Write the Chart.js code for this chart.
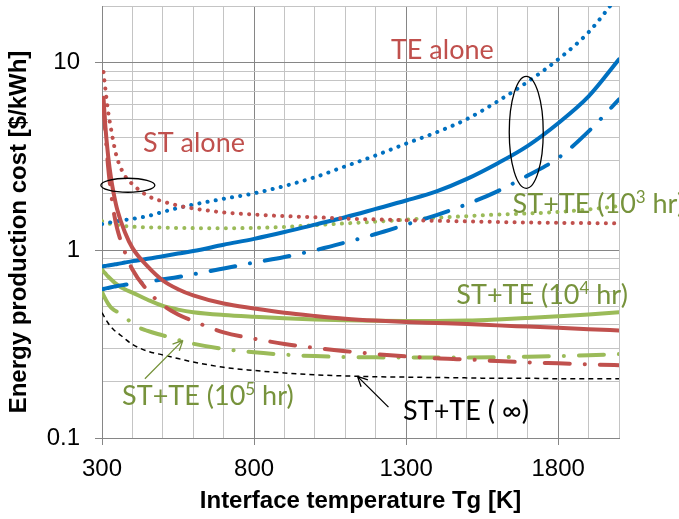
<!DOCTYPE html>
<html>
<head>
<meta charset="utf-8">
<script src="https://cdn.jsdelivr.net/npm/chart.js@4"></script>
<style>
  html, body { margin: 0; padding: 0; background: #fff; }
</style>
</head>
<body>
<canvas id="costChart" width="679" height="519"></canvas>
<script>
// Interface temperature Tg [K]
const temps = [300, 305, 310, 320, 330, 340, 350, 375, 400, 450, 500, 550, 600, 700, 800, 900, 1000, 1100, 1200, 1300, 1400, 1500, 1600, 1700, 1800, 1900, 2000];

// ST alone (red): 10^3 hr dotted, 10^4 hr solid, 10^5 hr dash-dot
const stLife1e3 = [null, 8.9, 7.5, 5.5, 4.4, 3.6, 3.08, 2.5, 2.25, 1.95, 1.82, 1.73, 1.67, 1.59, 1.55, 1.52, 1.5, 1.475, 1.46, 1.445, 1.435, 1.425, 1.415, 1.405, 1.4, 1.395, 1.39];
const stLife1e4 = [null, 6.5, 4.8, 3.2, 2.4, 1.95, 1.65, 1.25, 1.03, 0.82, 0.69, 0.62, 0.575, 0.52, 0.49, 0.465, 0.447, 0.432, 0.422, 0.415, 0.41, 0.405, 0.398, 0.392, 0.386, 0.38, 0.374];
const stLife1e5 = [null, 6.0, 4.5, 2.8, 2.0, 1.55, 1.3, 0.98, 0.79, 0.61, 0.51, 0.455, 0.42, 0.365, 0.338, 0.317, 0.302, 0.29, 0.28, 0.272, 0.266, 0.262, 0.257, 0.253, 0.25, 0.247, 0.244];

// TE alone (blue)
const teLife1e3 = [1.38, 1.385, 1.39, 1.4, 1.41, 1.42, 1.43, 1.45, 1.47, 1.52, 1.6, 1.68, 1.75, 1.88, 2.01, 2.2, 2.45, 2.8, 3.2, 3.7, 4.25, 5.0, 6.2, 7.9, 10.4, 14.5, 23];
const teLife1e4 = [0.82, 0.822, 0.825, 0.83, 0.835, 0.84, 0.845, 0.86, 0.875, 0.9, 0.93, 0.96, 0.99, 1.07, 1.15, 1.25, 1.37, 1.5, 1.66, 1.84, 2.06, 2.4, 2.9, 3.6, 4.75, 6.6, 10.4];
const teLife1e5 = [0.62, 0.622, 0.625, 0.63, 0.635, 0.64, 0.645, 0.655, 0.665, 0.68, 0.7, 0.72, 0.745, 0.8, 0.86, 0.92, 1.0, 1.1, 1.22, 1.37, 1.54, 1.76, 2.06, 2.5, 3.1, 4.3, 6.36];

// ST+TE (green) and the infinite-life limit (black)
const stTeLife1e3 = [1.43, 1.42, 1.41, 1.39, 1.38, 1.37, 1.36, 1.345, 1.335, 1.325, 1.32, 1.315, 1.312, 1.31, 1.315, 1.33, 1.36, 1.39, 1.42, 1.455, 1.49, 1.52, 1.55, 1.57, 1.6, 1.65, 1.72];
const stTeLife1e4 = [0.79, 0.77, 0.755, 0.725, 0.7, 0.675, 0.655, 0.62, 0.595, 0.545, 0.505, 0.483, 0.468, 0.452, 0.442, 0.434, 0.428, 0.424, 0.421, 0.42, 0.42, 0.422, 0.428, 0.436, 0.445, 0.455, 0.467];
const stTeLife1e5 = [0.6, 0.575, 0.555, 0.52, 0.495, 0.48, 0.47, 0.445, 0.405, 0.372, 0.352, 0.333, 0.318, 0.298, 0.286, 0.278, 0.273, 0.27, 0.269, 0.268, 0.268, 0.268, 0.269, 0.271, 0.273, 0.276, 0.28];
const stTeInf = [0.465, 0.45, 0.435, 0.41, 0.39, 0.375, 0.365, 0.338, 0.315, 0.29, 0.277, 0.265, 0.254, 0.238, 0.229, 0.222, 0.217, 0.214, 0.212, 0.211, 0.21, 0.209, 0.208, 0.208, 0.207, 0.207, 0.207];

// axis ticks
const xGridTicks = [300, 400, 500, 600, 700, 800, 900, 1000, 1100, 1200, 1300, 1400, 1500, 1600, 1700, 1800, 1900, 2000];
const xLabels = [300, 800, 1300, 1800];
const yGridTicks = [0.1, 0.2, 0.3, 0.4, 0.5, 0.6, 0.7, 0.8, 0.9, 1, 2, 3, 4, 5, 6, 7, 8, 9, 10, 20];
const yLabels = [0.1, 1, 10];

const RED = '#C0504D';
const BLUE = '#0070C0';
const GREEN = '#9BBB59';
const GREEN_TEXT = '#77933C';
const MAJOR_GRID = '#868686';
const MINOR_GRID = '#C4C4C4';

const DOTTED = [0.1, 8.2];
const DASH_DOT = [25, 15, 0.1, 15];

function series(values) {
  return temps.map((t, i) => ({ x: t, y: values[i] }));
}

function line(values, color, dash, width) {
  return {
    data: series(values),
    borderColor: color,
    borderWidth: width || 4,
    borderDash: dash || [],
    borderCapStyle: 'round',
    pointRadius: 0,
    fill: false,
    cubicInterpolationMode: 'monotone'
  };
}

// annotations, anchored in data units
const noteLabels = [
  { parts: [['TE alone']], at: [1250, 10.4], color: RED },
  { parts: [['ST alone']], at: [435, 3.33], color: RED },
  { parts: [['ST+TE (10'], ['3', true], [' hr)']], at: [1650, 1.57], color: GREEN_TEXT },
  { parts: [['ST+TE (10'], ['4', true], [' hr)']], at: [1465, 0.52], color: GREEN_TEXT },
  { parts: [['ST+TE (10'], ['5', true], [' hr)']], at: [366, 0.149], color: GREEN_TEXT },
  { parts: [['ST+TE ( \u221E)']], at: [1290, 0.124], color: '#000' }
];
const noteEllipses = [
  { at: [385, 2.22], rx: 27, ry: 7 },
  { at: [1695, 4.25], rx: 17, ry: 56 }
];
const noteArrows = [
  { from: [441, 0.207], to: [566, 0.331], color: GREEN_TEXT },
  { from: [1242, 0.146], to: [1140, 0.213], color: '#000' }
];

const notesPlugin = {
  id: 'notes',
  afterDatasetsDraw(chart) {
    const { ctx, scales: { x, y } } = chart;
    const px = (p) => [x.getPixelForValue(p[0]), y.getPixelForValue(p[1])];
    ctx.save();

    ctx.strokeStyle = '#000';
    ctx.lineWidth = 1.3;
    noteEllipses.forEach((e) => {
      const [cx, cy] = px(e.at);
      ctx.beginPath();
      ctx.ellipse(cx, cy, e.rx, e.ry, 0, 0, Math.PI * 2);
      ctx.stroke();
    });

    noteArrows.forEach((a) => {
      const [x0, y0] = px(a.from);
      const [x1, y1] = px(a.to);
      const ang = Math.atan2(y1 - y0, x1 - x0);
      ctx.strokeStyle = a.color;
      ctx.lineWidth = 1.3;
      ctx.beginPath();
      ctx.moveTo(x0, y0);
      ctx.lineTo(x1, y1);
      [-0.45, 0.45].forEach((d) => {
        ctx.moveTo(x1, y1);
        ctx.lineTo(x1 - 11 * Math.cos(ang + d), y1 - 11 * Math.sin(ang + d));
      });
      ctx.stroke();
    });

    ctx.textBaseline = 'alphabetic';
    ctx.textAlign = 'left';
    noteLabels.forEach((l) => {
      let [cx, cy] = px(l.at);
      ctx.fillStyle = l.color;
      l.parts.forEach(([text, sup]) => {
        ctx.font = sup ? '17px Lato' : '27px Lato';
        ctx.fillText(text, cx, sup ? cy - 10 : cy);
        cx += ctx.measureText(text).width;
      });
    });
    ctx.restore();
  }
};

const ctx = document.getElementById('costChart').getContext('2d');
const tickFont = { family: '"Liberation Sans", Arial, sans-serif', size: 24 };
const titleFont = { family: '"Liberation Sans", Arial, sans-serif', size: 24, weight: 'bold' };

new Chart(ctx, {
  type: 'line',
  data: {
    datasets: [
      line(stLife1e3, RED, DOTTED, 4),
      line(stLife1e4, RED),
      line(stLife1e5, RED, DASH_DOT),
      line(teLife1e3, BLUE, DOTTED, 4),
      line(teLife1e4, BLUE),
      line(teLife1e5, BLUE, DASH_DOT),
      line(stTeLife1e3, GREEN, DOTTED, 4),
      line(stTeLife1e4, GREEN),
      line(stTeLife1e5, GREEN, DASH_DOT),
      Object.assign(line(stTeInf, '#000', [5, 4], 1.5), { borderCapStyle: 'butt' })
    ]
  },
  options: {
    responsive: false,
    animation: false,
    layout: { padding: { left: 0, right: 60, top: 6, bottom: 0 } },
    plugins: { legend: { display: false }, tooltip: { enabled: false } },
    scales: {
      x: {
        type: 'linear',
        min: 300,
        max: 2000,
        afterBuildTicks: (axis) => { axis.ticks = xGridTicks.map((v) => ({ value: v })); },
        afterFit: (axis) => {
          axis.height = 81;
          axis.paddingLeft = 0;
          axis.paddingRight = 0;
        },
        ticks: {
          autoSkip: false,
          maxRotation: 0,
          padding: 10,
          color: '#000',
          font: tickFont,
          callback: (v) => (xLabels.includes(v) ? String(v) : '')
        },
        grid: {
          color: (c) => (c.tick && xLabels.includes(c.tick.value) ? MAJOR_GRID : MINOR_GRID),
          tickColor: (c) => (c.tick && xLabels.includes(c.tick.value) ? MAJOR_GRID : 'rgba(0,0,0,0)'),
          tickLength: 7,
          lineWidth: 1
        },
        border: { color: MAJOR_GRID },
        title: {
          display: true,
          text: 'Interface temperature Tg [K]',
          color: '#000',
          font: titleFont,
          padding: { top: 0, bottom: 3 }
        }
      },
      y: {
        type: 'logarithmic',
        min: 0.1,
        max: 20,
        afterBuildTicks: (axis) => { axis.ticks = yGridTicks.map((v) => ({ value: v })); },
        afterFit: (axis) => {
          axis.width = 102;
          axis.paddingTop = 0;
          axis.paddingBottom = 0;
        },
        ticks: {
          autoSkip: false,
          padding: 15,
          color: '#000',
          font: tickFont,
          callback: (v) => (yLabels.includes(v) ? String(v) : '')
        },
        grid: {
          color: (c) => (c.tick && yLabels.includes(c.tick.value) ? MAJOR_GRID : MINOR_GRID),
          tickColor: (c) => (c.tick && yLabels.includes(c.tick.value) ? MAJOR_GRID : 'rgba(0,0,0,0)'),
          tickLength: 7,
          lineWidth: 1
        },
        border: { color: MAJOR_GRID },
        title: {
          display: true,
          text: 'Energy production cost [$/kWh]   ',
          color: '#000',
          font: titleFont,
          padding: { top: 5, bottom: 0 }
        }
      }
    }
  },
  plugins: [notesPlugin]
});
</script>
</body>
</html>
